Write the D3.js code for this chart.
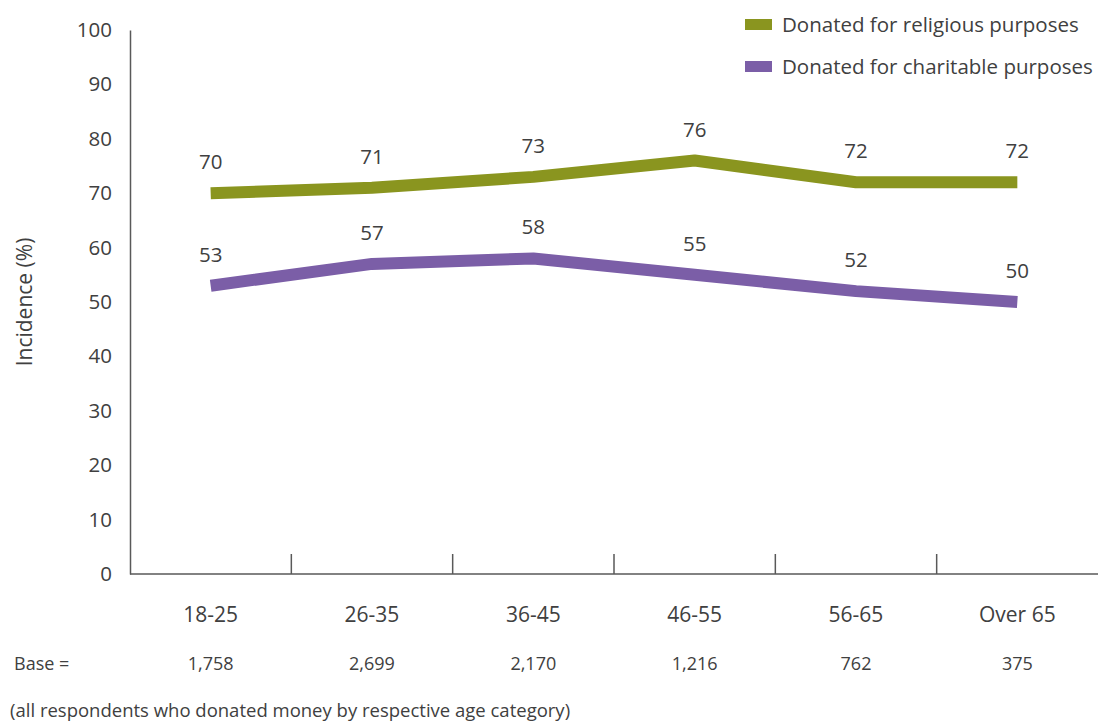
<!DOCTYPE html>
<html>
<head>
<meta charset="utf-8">
<script src="https://cdn.jsdelivr.net/npm/d3@7"></script>
<style>
    body { margin: 0; background: #fff; }
    text { font-family: "Open Sans", sans-serif; fill: #404040; }
</style>
</head>
<body>
<svg id="chart" width="1107" height="722"></svg>
<script>
// data
const ageGroups = ["18-25", "26-35", "36-45", "46-55", "56-65", "Over 65"];
const baseCounts = ["1,758", "2,699", "2,170", "1,216", "762", "375"];
const religious = [70, 71, 73, 76, 72, 72];
const charitable = [53, 57, 58, 55, 52, 50];
const yTicks = [0, 10, 20, 30, 40, 50, 60, 70, 80, 90, 100];

const series = [
    {name: "Donated for religious purposes", values: religious, color: "#8a951f"},
    {name: "Donated for charitable purposes", values: charitable, color: "#7b5ea7"}
];

const svg = d3.select("#chart");
const margin = {left: 130, top: 30, right: 9, bottom: 148};
const width = 1107, height = 722;
const axisColor = "#595959";

let x = d3.scaleBand()
    .domain(ageGroups)
    .range([margin.left, width - margin.right]);

let y = d3.scaleLinear()
    .domain([0, 100])
    .range([height - margin.bottom, margin.top]);

// y axis
let yAxis = svg.append("g")
    .attr("transform", `translate(${margin.left},0)`)
    .call(d3.axisLeft(y).tickValues(yTicks).tickSize(0).tickPadding(18));
yAxis.select(".domain").attr("stroke", axisColor).attr("stroke-width", 1.5);
yAxis.selectAll("text").style("font-size", "20.5px").attr("fill", "#404040");

// x axis line + tick marks between categories
let x0 = y(0);
svg.append("line")
    .attr("x1", margin.left).attr("x2", width - margin.right)
    .attr("y1", x0).attr("y2", x0)
    .attr("stroke", axisColor).attr("stroke-width", 1.5);
svg.selectAll(".sep")
    .data(ageGroups.slice(1))
    .enter().append("line")
    .attr("x1", d => x(d)).attr("x2", d => x(d))
    .attr("y1", x0 - 20).attr("y2", x0)
    .attr("stroke", axisColor).attr("stroke-width", 1.5);

// category labels
svg.selectAll(".cat")
    .data(ageGroups)
    .enter().append("text")
    .attr("x", d => x(d) + x.bandwidth() / 2)
    .attr("y", x0 + 48)
    .attr("text-anchor", "middle")
    .style("font-size", "21px")
    .text(d => d);

// base row
svg.append("text")
    .attr("x", 14).attr("y", x0 + 96)
    .style("font-size", "18px")
    .text("Base =");
svg.selectAll(".base")
    .data(ageGroups)
    .enter().append("text")
    .attr("x", (d) => x(d) + x.bandwidth() / 2)
    .attr("y", x0 + 96)
    .attr("text-anchor", "middle")
    .style("font-size", "18px")
    .text((d, i) => baseCounts[i]);

svg.append("text")
    .attr("x", 10).attr("y", 717)
    .style("font-size", "18.5px")
    .text("(all respondents who donated money by respective age category)");

// axis title
svg.append("text")
    .attr("transform", `translate(32, ${(y(0) + y(100)) / 2}) rotate(-90)`)
    .attr("text-anchor", "middle")
    .style("font-size", "21px")
    .text("Incidence (%)");

// lines
let line = d3.line()
    .x((d, i) => x(ageGroups[i]) + x.bandwidth() / 2)
    .y(d => y(d));

series.forEach(s => {
    svg.append("path")
        .datum(s.values)
        .attr("d", line)
        .attr("fill", "none")
        .attr("stroke", s.color)
        .attr("stroke-width", 12)
        .attr("stroke-linejoin", "round");

    svg.selectAll(null)
        .data(s.values)
        .enter().append("text")
        .attr("x", (d, i) => x(ageGroups[i]) + x.bandwidth() / 2)
        .attr("y", d => y(d) - 24)
        .attr("text-anchor", "middle")
        .style("font-size", "20.5px")
        .text(d => d);
});

// legend
let legend = svg.append("g").attr("transform", "translate(745, 25)");
series.forEach((s, i) => {
    let g = legend.append("g").attr("transform", `translate(0, ${i * 42})`);
    g.append("rect")
        .attr("x", 0).attr("y", -6)
        .attr("width", 27).attr("height", 11)
        .attr("fill", s.color);
    g.append("text")
        .attr("x", 37).attr("y", 0)
        .attr("dy", "0.35em")
        .style("font-size", "20.5px")
        .text(s.name);
});
</script>
</body>
</html>
